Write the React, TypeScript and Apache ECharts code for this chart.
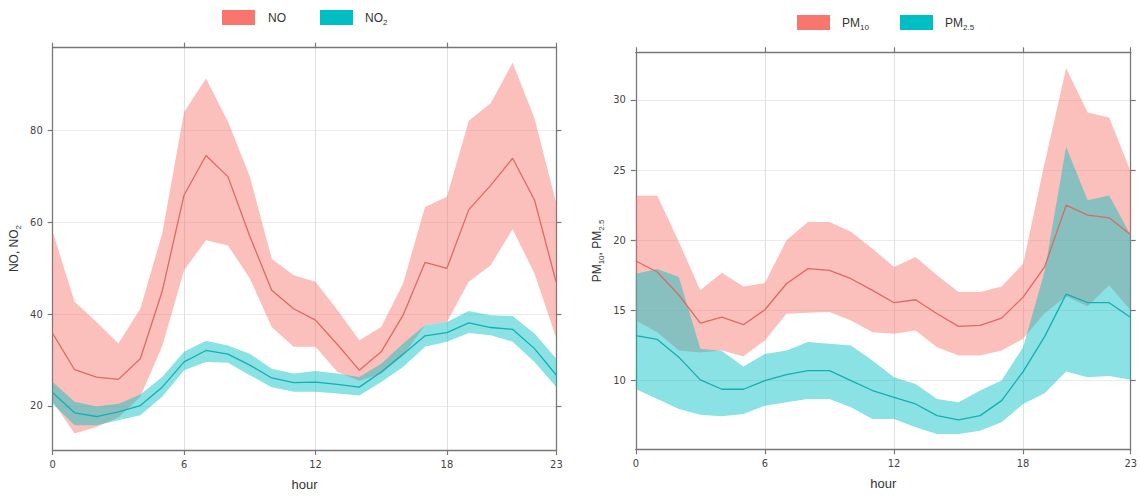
import React, { useEffect, useRef } from "react";
import * as echarts from "echarts";

// Hour of day (x categories) and the hours that carry a tick label
const HOURS = ["0","1","2","3","4","5","6","7","8","9","10","11","12","13","14","15","16","17","18","19","20","21","22","23"];
const X_TICK_HOURS = [0, 6, 12, 18, 23];

// Left panel: NO and NO2, mean with lower/upper band
const NO_MEAN = [35.8, 27.9, 26.3, 25.8, 30.3, 45.0, 66.0, 74.6, 70.0, 57.0, 45.2, 41.2, 38.7, 33.4, 27.8, 31.8, 39.8, 51.3, 50.0, 62.8, 68.1, 74.0, 64.9, 46.8];
const NO_UPPER = [58.0, 42.7, 38.3, 33.6, 41.2, 57.6, 84.1, 91.4, 82.0, 70.0, 52.1, 48.5, 47.1, 40.9, 34.3, 37.2, 46.7, 63.4, 65.6, 82.2, 86.0, 94.8, 82.7, 64.1];
const NO_LOWER = [21.0, 14.0, 15.4, 17.5, 22.0, 33.0, 49.6, 56.1, 55.0, 47.8, 37.2, 32.9, 32.9, 27.4, 25.5, 27.0, 31.0, 37.6, 38.3, 47.1, 50.7, 58.5, 48.9, 34.7];

const NO2_MEAN = [22.9, 18.5, 17.7, 18.7, 20.1, 24.1, 29.6, 32.1, 31.3, 28.9, 26.1, 25.1, 25.2, 24.7, 24.1, 27.4, 31.3, 35.3, 36.0, 38.1, 37.1, 36.7, 32.5, 26.7];
const NO2_UPPER = [25.2, 20.9, 19.9, 20.5, 22.5, 26.3, 31.8, 34.2, 33.2, 31.4, 28.1, 27.1, 27.6, 27.1, 26.3, 29.2, 33.6, 37.6, 38.3, 40.7, 39.8, 39.6, 35.8, 30.3];
const NO2_LOWER = [20.5, 15.8, 15.8, 16.9, 18.0, 22.0, 27.8, 29.6, 29.4, 26.7, 24.1, 23.1, 23.1, 22.7, 22.3, 25.2, 28.5, 32.9, 34.0, 35.9, 35.4, 34.0, 29.6, 24.1];

const NOX_Y_TICKS = [20, 40, 60, 80];
const NOX_Y_RANGE = [10.4, 98.1];

// Right panel: PM10 and PM2.5, mean with lower/upper band
const PM10_MEAN = [18.52, 17.74, 16.1, 14.1, 14.52, 13.98, 15.05, 16.9, 17.98, 17.86, 17.26, 16.43, 15.55, 15.76, 14.76, 13.86, 13.93, 14.45, 15.95, 18.1, 22.5, 21.79, 21.6, 20.4];
const PM10_UPPER = [23.17, 23.17, 19.9, 16.43, 17.69, 16.71, 16.95, 20.0, 21.3, 21.31, 20.6, 19.4, 18.1, 18.8, 17.5, 16.31, 16.31, 16.7, 18.33, 25.5, 32.26, 29.1, 28.76, 24.9];
const PM10_LOWER = [14.29, 13.45, 12.14, 12.0, 12.14, 11.74, 12.86, 14.76, 14.83, 14.88, 14.29, 13.45, 13.33, 13.57, 12.38, 11.79, 11.79, 12.14, 12.98, 14.8, 16.0, 15.3, 16.8, 15.0];

const PM25_MEAN = [13.21, 12.93, 11.67, 10.05, 9.38, 9.38, 10.0, 10.43, 10.71, 10.71, 10.0, 9.29, 8.81, 8.33, 7.5, 7.19, 7.5, 8.57, 10.64, 13.13, 16.16, 15.55, 15.55, 14.5];
const PM25_UPPER = [17.62, 17.95, 17.38, 12.26, 12.1, 11.0, 11.9, 12.14, 12.74, 12.62, 12.5, 11.43, 10.24, 9.76, 8.69, 8.45, 9.29, 10.0, 12.38, 17.8, 26.67, 22.86, 23.2, 20.36];
const PM25_LOWER = [9.4, 8.69, 7.98, 7.57, 7.45, 7.62, 8.21, 8.45, 8.69, 8.69, 8.1, 7.26, 7.26, 6.67, 6.19, 6.19, 6.43, 7.02, 8.33, 9.1, 10.64, 10.24, 10.33, 10.05];

const PM_Y_TICKS = [10, 15, 20, 25, 30];
const PM_Y_RANGE = [5.1, 33.4];

const RED = "#F8766D";
const TEAL = "#00BFC4";
const RED_LINE = "#DA6B63";
const TEAL_LINE = "#16AEB1";
const FRAME = "#777777";
const TICK_FONT = "'Liberation Sans Narrow', 'Arial Narrow', 'DejaVu Sans Condensed', 'Liberation Sans', Arial, sans-serif";
const TEXT_FONT = "'Liberation Sans', Arial, sans-serif";

const isXTick = (i: number) => X_TICK_HOURS.indexOf(i) >= 0;

function xAxes(gridIndex: number) {
  const common = {
    type: "category",
    gridIndex,
    data: HOURS,
    boundaryGap: false,
    axisLine: { show: true, onZero: false, lineStyle: { color: FRAME, width: 1.3 } },
    axisTick: { show: true, length: 5, interval: (i: number) => isXTick(i), lineStyle: { color: FRAME, width: 1.2 } },
  };
  return [
    {
      ...common,
      position: "bottom",
      name: "hour",
      nameLocation: "middle",
      nameGap: 28,
      nameTextStyle: { fontFamily: TEXT_FONT, fontSize: 13, color: "#333" },
      axisLabel: { interval: (i: number) => isXTick(i), margin: 9, fontFamily: TICK_FONT, fontSize: 11, color: "#444" },
      splitLine: { show: true, interval: (i: number) => isXTick(i), lineStyle: { color: "#e0e0e0", width: 1 } },
    },
    {
      ...common,
      position: "top",
      axisLabel: { show: false },
      splitLine: { show: false },
    },
  ];
}

function yAxes(gridIndex: number, range: number[], ticks: number[]) {
  const common = {
    type: "value",
    gridIndex,
    min: range[0],
    max: range[1],
    axisLine: { show: true, onZero: false, lineStyle: { color: FRAME, width: 1.3 } },
    axisTick: { show: true, length: 5, customValues: ticks, lineStyle: { color: FRAME, width: 1.2 } },
  };
  return [
    {
      ...common,
      position: "left",
      axisLabel: { customValues: ticks, margin: 10, fontFamily: TICK_FONT, fontSize: 11, color: "#444" },
      splitLine: { show: true, lineStyle: { color: "#ebebeb", width: 1 } },
    },
    {
      ...common,
      position: "right",
      axisLabel: { show: false },
      splitLine: { show: false },
    },
  ];
}

// Lower edge (invisible) + stacked width, filled between them
function band(id: string, gi: number, lower: number[], upper: number[], color: string) {
  const base = {
    type: "line",
    xAxisIndex: gi * 2,
    yAxisIndex: gi * 2,
    stack: id,
    symbol: "none",
    silent: true,
    lineStyle: { width: 0, opacity: 0 },
  };
  return [
    { ...base, name: id + "-lower", data: lower },
    {
      ...base,
      name: id + "-band",
      data: upper.map((u, i) => +(u - lower[i]).toFixed(3)),
      areaStyle: { color, opacity: 0.46 },
    },
  ];
}

function meanLine(name: string, gi: number, values: number[], color: string) {
  return {
    type: "line",
    name,
    xAxisIndex: gi * 2,
    yAxisIndex: gi * 2,
    data: values,
    symbol: "none",
    silent: true,
    lineStyle: { color, width: 1.3 },
  };
}

const SUB_RICH = {
  sub: { fontSize: 8, lineHeight: 8, verticalAlign: "bottom", fontFamily: TEXT_FONT, fill: "#333" },
};

function label(x: number, y: number, text: string, extra: any = {}) {
  return {
    type: "text",
    x,
    y,
    silent: true,
    ...extra,
    style: {
      text,
      fontFamily: TEXT_FONT,
      fontSize: 12,
      lineHeight: 16,
      fill: "#333",
      verticalAlign: "middle",
      align: extra.align || "left",
      rich: SUB_RICH,
    },
  };
}

function swatch(x: number, y: number, color: string) {
  return { type: "rect", silent: true, shape: { x, y, width: 33, height: 15 }, style: { fill: color } };
}

export default function App() {
  const ref = useRef<HTMLDivElement>(null);

  useEffect(() => {
    if (!ref.current) return;
    const chart = echarts.init(ref.current, null, { renderer: "svg" });
    chart.setOption({
      animation: false,
      backgroundColor: "#ffffff",
      grid: [
        { left: 52.7, top: 47.7, width: 503.7, height: 402.3, containLabel: false },
        { left: 635.8, top: 52.3, width: 500.2, height: 397, containLabel: false },
      ],
      xAxis: [...xAxes(0), ...xAxes(1)],
      yAxis: [...yAxes(0, NOX_Y_RANGE, NOX_Y_TICKS), ...yAxes(1, PM_Y_RANGE, PM_Y_TICKS)],
      series: [
        ...band("no", 0, NO_LOWER, NO_UPPER, RED),
        meanLine("NO", 0, NO_MEAN, RED_LINE),
        ...band("no2", 0, NO2_LOWER, NO2_UPPER, TEAL),
        meanLine("NO2", 0, NO2_MEAN, TEAL_LINE),
        ...band("pm10", 1, PM10_LOWER, PM10_UPPER, RED),
        meanLine("PM10", 1, PM10_MEAN, RED_LINE),
        ...band("pm25", 1, PM25_LOWER, PM25_UPPER, TEAL),
        meanLine("PM2.5", 1, PM25_MEAN, TEAL_LINE),
      ],
      graphic: [
        // legends
        swatch(222, 10, RED),
        label(268, 18, "NO"),
        swatch(320, 10, TEAL),
        label(365, 18, "NO{sub|2}"),
        swatch(797, 15, RED),
        label(842, 23, "PM{sub|10}"),
        swatch(900, 15, TEAL),
        label(945, 23, "PM{sub|2.5}"),
        // y-axis titles
        label(14, 248.5, "NO, NO{sub|2}", { rotation: Math.PI / 2, align: "center" }),
        label(597, 251, "PM{sub|10}, PM{sub|2.5}", { rotation: Math.PI / 2, align: "center" }),
      ],
    });
    return () => chart.dispose();
  }, []);

  return (
    <div
      ref={ref}
      style={{ position: "fixed", left: 0, top: 0, width: 1140, height: 497, background: "#fff" }}
    />
  );
}
